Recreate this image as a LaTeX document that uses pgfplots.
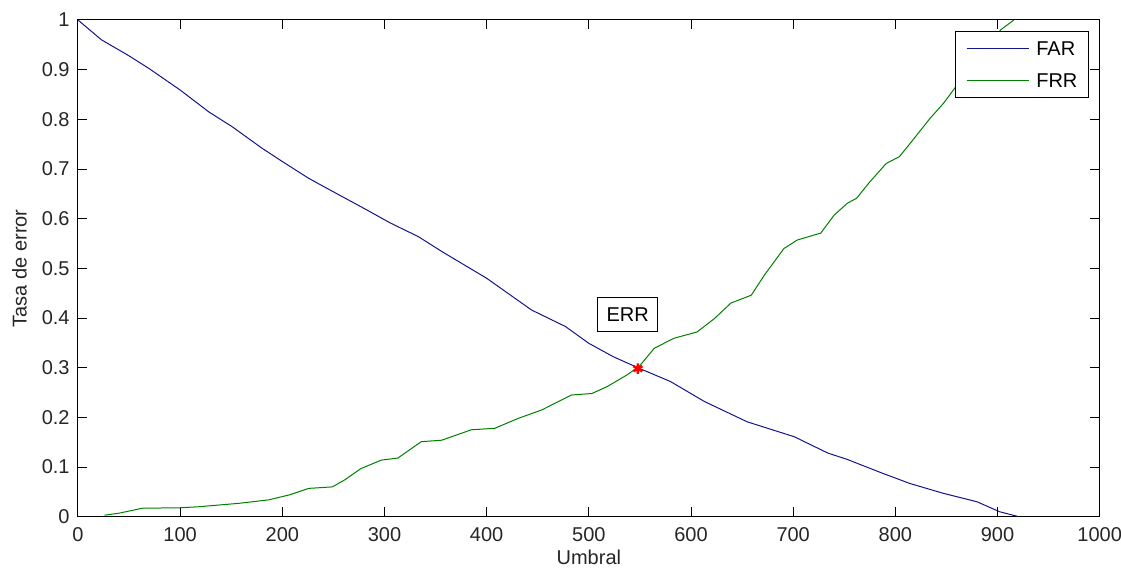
\documentclass[border=0pt]{standalone}
\usepackage{fontspec}
\setmainfont{Liberation Sans}
\usepackage{pgfplots}
\pgfplotsset{compat=1.18}
\definecolor{farblue}{RGB}{20,20,140}
\definecolor{frrgreen}{RGB}{0,128,0}
\begin{document}
\begin{tikzpicture}
\path[use as bounding box] (-39pt,-27.15pt) rectangle (521.5pt,258.35pt);
\begin{axis}[
  scale only axis,
  width=510.85pt, height=248.35pt,
  xmin=0, xmax=1000, ymin=0, ymax=1,
  xtick={0,100,...,1000},
  ytick={0,0.1,0.2,0.3,0.4,0.5,0.6,0.7,0.8,0.9,1},
  scaled ticks=false,
  tick align=inside,
  major tick length=4.7pt,
  tick style={black, line width=0.5pt},
  axis line style={black, line width=0.5pt},
  /pgf/number format/assume math mode=true,
  /pgf/number format/1000 sep={},
  tick label style={font=\fontsize{10}{12}\selectfont, text=black!85},
  xticklabel style={anchor=base, yshift=-12.5pt},
  yticklabel style={anchor=east, inner sep=0pt, xshift=-4pt},
  xlabel={Umbral},
  ylabel={Tasa de error},
  xlabel style={at={(axis description cs:0.5,0)}, anchor=base, yshift=-24.15pt, font=\fontsize{10}{12}\selectfont, text=black!85},
  ylabel style={at={(axis description cs:-0.0502,0.5)}, anchor=base, font=\fontsize{10}{12}\selectfont, text=black!85},
  legend style={at={(rel axis cs:1,1)}, anchor=north east, xshift=-5.6pt, yshift=-5.5pt,
    draw=black, line width=0.5pt, fill=white,
    inner xsep=5.3pt, inner ysep=5.07pt,
    row sep=8.7pt, column sep=3.6pt,
    font=\fontsize{10}{12}\selectfont,
    nodes={inner sep=0pt, anchor=base west, text height=7.16pt, text depth=0pt}},
  legend cell align=left,
  legend image code/.code={\draw[#1] (0pt,3.58pt) -- (31pt,3.58pt);},
]
\addplot[farblue, line width=0.5pt] coordinates {
(0,1.000) (23,0.960) (49,0.929) (69,0.903) (100,0.859) (128,0.815) (151,0.785)
(180,0.742) (200,0.715) (226,0.681) (250,0.654) (277,0.624) (306,0.591)
(333,0.564) (356,0.534) (400,0.480) (444,0.416) (477,0.383) (500,0.349)
(524,0.322) (549,0.299) (580,0.272) (613,0.232) (655,0.191) (701,0.161)
(734,0.128) (752,0.116) (788,0.087) (814,0.067) (847,0.047) (880,0.030)
(902,0.010) (919,0.001)
};
\addlegendentry{FAR}
\addplot[frrgreen, line width=0.5pt] coordinates {
(26,0.003) (40,0.007) (63,0.017) (100,0.018) (118,0.020) (158,0.027) (187,0.034)
(207,0.044) (226,0.057) (249,0.060) (261,0.074) (277,0.097) (297,0.114)
(313,0.118) (336,0.151) (356,0.154) (385,0.175) (408,0.178) (431,0.198)
(454,0.215) (483,0.245) (503,0.248) (518,0.262) (537,0.285) (549,0.302)
(564,0.339) (583,0.359) (606,0.372) (623,0.399) (639,0.430) (659,0.446)
(672,0.487) (691,0.540) (704,0.557) (727,0.571) (740,0.607) (753,0.631)
(762,0.641) (775,0.674) (791,0.711) (804,0.725) (817,0.758) (834,0.802)
(847,0.832) (863,0.876) (885,0.930) (903,0.980) (916,1.000)
};
\addlegendentry{FRR}
\addplot[red, only marks, mark=asterisk, mark size=2.6pt, mark options={line width=1.3pt}, forget plot] coordinates {(548,0.298)};
\node[draw=black, line width=0.5pt, fill=white, font=\fontsize{10}{12}\selectfont,
  inner xsep=4.4pt, inner ysep=4.9pt, text height=7.16pt, text depth=0pt] at (axis cs:538,0.407) {ERR};
\end{axis}
\end{tikzpicture}
\end{document}
